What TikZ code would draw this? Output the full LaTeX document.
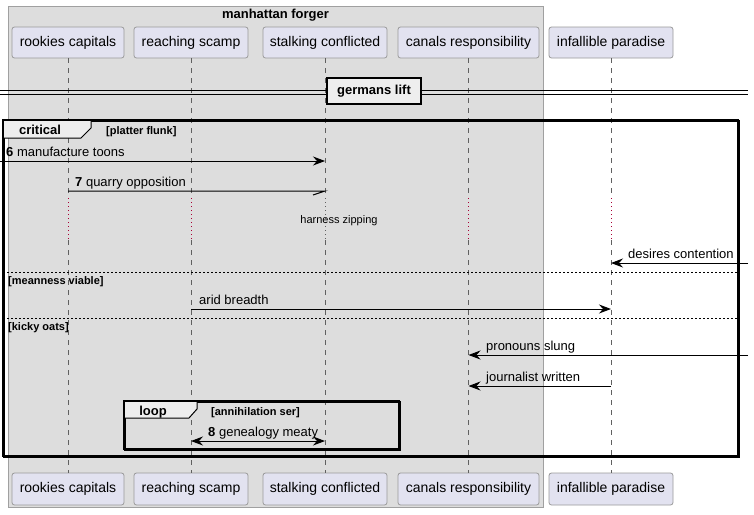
\documentclass[tikz,border=0pt]{standalone}
\usepackage{fontspec}
\setmainfont{Liberation Sans}
\usetikzlibrary{arrows.meta}
\definecolor{grp}{HTML}{DDDDDD}
\definecolor{grpdraw}{HTML}{A0A0A0}
\definecolor{partfill}{HTML}{E2E2F0}
\definecolor{partdraw}{HTML}{9A9A9A}
\definecolor{lifered}{HTML}{A80036}
\definecolor{lifegray}{HTML}{606060}
\definecolor{tabfill}{HTML}{EEEEEE}
\tikzset{
 part/.style={draw=partdraw, fill=partfill, rounded corners=2.5pt, minimum height=31pt, inner sep=0pt, font=\fontsize{14}{16}\selectfont, line width=0.8pt},
 life/.style={draw=lifegray, dash pattern=on 5pt off 5pt, line width=0.6pt},
 lifedot/.style={draw=lifered, dash pattern=on 1pt off 3pt, line width=0.8pt},
 arrowhd/.tip={Stealth[length=12pt,width=9pt,inset=4pt]},
 msg/.style={line width=1pt, -arrowhd},
 lbl/.style={font=\fontsize{13}{15}\selectfont, anchor=base west, inner sep=0pt},
 guard/.style={font=\bfseries\fontsize{11}{13}\selectfont, anchor=base west, inner sep=0pt},
 frm/.style={draw=black, line width=1.5pt, inner sep=0pt, anchor=north west},
 tab/.style={fill=tabfill, draw=black, line width=1pt},
 tabtxt/.style={font=\bfseries\fontsize{13}{15}\selectfont, anchor=base, inner sep=0pt},
 sepline/.style={draw=black, line width=0.7pt, dash pattern=on 2pt off 2pt},
}
\begin{document}
\begin{tikzpicture}[x=1pt,y=-1pt]
\useasboundingbox (0,0) rectangle (754,514);
\fill[white] (0,0) rectangle (754,514);
% group box
\node[draw=grpdraw, fill=grp, line width=0.8pt, minimum width=535pt, minimum height=501pt, anchor=north west, inner sep=0pt] (grp) at (8,6) {};
\node[font=\bfseries\fontsize{13}{15}\selectfont, inner sep=0pt] (grpt) at (275.5,15) {manhattan forger};
% participants
\node[part, minimum width=112pt] (p1t) at (68,42.5) {rookies capitals};
\node[part, minimum width=114pt] (p2t) at (191,42.5) {reaching scamp};
\node[part, minimum width=124pt] (p3t) at (325,42.5) {stalking conflicted};
\node[part, minimum width=141pt] (p4t) at (468.5,42.5) {canals responsibility};
\node[part, minimum width=124pt] (p5t) at (611,42.5) {infallible paradise};
\node[part, minimum width=112pt, minimum height=32pt] (p1b) at (68,489) {rookies capitals};
\node[part, minimum width=114pt, minimum height=32pt] (p2b) at (191,489) {reaching scamp};
\node[part, minimum width=124pt, minimum height=32pt] (p3b) at (325,489) {stalking conflicted};
\node[part, minimum width=141pt, minimum height=32pt] (p4b) at (468.5,489) {canals responsibility};
\node[part, minimum width=124pt, minimum height=32pt] (p5b) at (611,489) {infallible paradise};
% lifelines with delay
\coordinate (d1) at (0,198);
\coordinate (d2) at (0,240);
\foreach \p in {p1,p2,p4,p5}{
  \draw[life] (\p t.south) -- (\p t.south |- d1);
  \draw[lifedot] (\p t.south |- d1) -- (\p t.south |- d2);
  \draw[life] (\p t.south |- d2) -- (\p b.north);
}
\draw[life] (p3t.south) -- (p3t.south |- d1);
\draw[lifedot, draw=lifegray] (p3t.south |- d1) -- (p3t.south |- d2);
\draw[life] (p3t.south |- d2) -- (p3b.north);
% divider
\coordinate (dvl) at (0,90);
\coordinate (dvr) at (748,90);
\draw[line width=0.9pt] (dvl) -- (dvr);
\draw[line width=0.9pt] ([yshift=-4pt]dvl) -- ([yshift=-4pt]dvr);
\node[draw=black, fill=tabfill, line width=1.5pt, minimum width=94pt, minimum height=26pt, inner sep=0pt, font=\bfseries\fontsize{13}{15}\selectfont] (div) at (374,91) {germans lift};
% critical frame
\node[frm, minimum width=735pt, minimum height=336pt] (crit) at (3,120) {};
\draw[tab] (3,120) -- (91,120) -- (91,128) -- (81,138) -- (3,138) -- cycle;
\draw[frm] (3,120) rectangle (738,456);
\node[tabtxt] (critt) at (40,134.7) {critical};
\node[guard] (g1) at (106,134.5) {[platter flunk]};
% message 6
\coordinate (m6s) at (0,161);
\draw[msg] (m6s) -- (p3t |- m6s);
\node[lbl] (m6l) at (6,156) {\textbf{6} manufacture toons};
% message 7
\coordinate (m7) at (0,191);
\draw[line width=1pt] (p1t |- m7) -- (p3t |- m7) -- ++(-12,4);
\node[lbl] (m7l) at (75,186) {\textbf{7} quarry opposition};
% delay text
\node[font=\fontsize{11}{13}\selectfont, inner sep=0pt] (dly) at (339,221) {harness zipping};
% desires contention
\coordinate (m9s) at (748,263);
\draw[msg] (m9s) -- (p5t |- m9s);
\node[lbl] (m9l) at (628,258) {desires contention};
% separator 1
\coordinate (s1a) at (3,272);
\coordinate (s1b) at (738,272);
\draw[sepline] (s1a) -- (s1b);
\node[guard] (g2) at (8,284.5) {[meanness viable]};
% arid breadth
\coordinate (m10) at (0,309);
\draw[msg] (p2t |- m10) -- (p5t |- m10);
\node[lbl] (m10l) at (199,304) {arid breadth};
% separator 2
\coordinate (s2a) at (3,318);
\coordinate (s2b) at (738,318);
\draw[sepline] (s2a) -- (s2b);
\node[guard] (g3) at (8,330.5) {[kicky oats]};
% pronouns slung
\coordinate (m11s) at (748,355);
\draw[msg] (m11s) -- (p4t |- m11s);
\node[lbl] (m11l) at (486,350) {pronouns slung};
% journalist written
\coordinate (m12) at (0,386);
\draw[msg] (p5t |- m12) -- (p4t |- m12);
\node[lbl] (m12l) at (486,381) {journalist written};
% loop frame
\node[frm, minimum width=275pt, minimum height=48pt] (lp) at (124,401) {};
\draw[tab] (124,401) -- (197,401) -- (197,409) -- (189,418) -- (124,418) -- cycle;
\draw[frm] (124,401) rectangle (399,449);
\node[tabtxt] (lpt) at (153,415.5) {loop};
\node[guard] (g4) at (211,415.5) {[annihilation ser]};
% genealogy meaty
\coordinate (m13) at (0,441);
\draw[line width=1pt, arrowhd-arrowhd] (p2t |- m13) -- (p3t |- m13);
\node[lbl] (m13l) at (208,436) {\textbf{8} genealogy meaty};
\end{tikzpicture}
\end{document}
